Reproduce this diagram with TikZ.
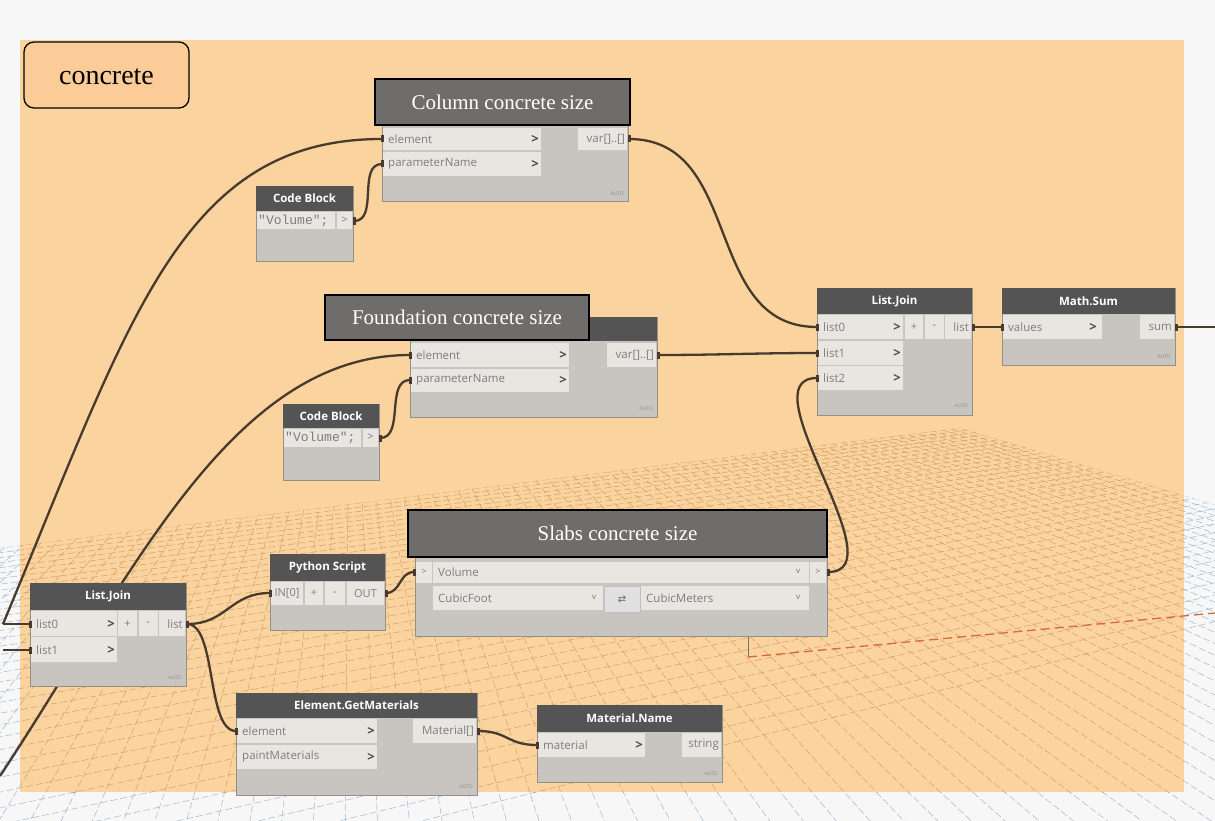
\documentclass[tikz,border=0pt]{standalone}
\usepackage{fontspec}
\setmainfont{Liberation Serif}
\newfontfamily\osans{Open Sans}
\newfontfamily\monof{Liberation Mono}
\newfontfamily\djv{DejaVu Sans}
\usetikzlibrary{fit}
\newcommand{\myfs}[1]{\fontsize{#1}{#1}\selectfont}
\definecolor{bgc}{RGB}{247,247,247}
\definecolor{grp}{RGB}{251,211,158}
\definecolor{lbl}{RGB}{252,204,152}
\definecolor{hdr}{RGB}{84,84,84}
\definecolor{bodyc}{RGB}{200,197,192}
\definecolor{rowc}{RGB}{233,230,226}
\definecolor{rowtxt}{RGB}{125,125,125}
\definecolor{nborder}{RGB}{150,143,133}
\definecolor{wirec}{RGB}{72,58,45}
\definecolor{tagc}{RGB}{111,109,107}
\definecolor{gridtan}{RGB}{205,160,104}
\definecolor{gridblue}{RGB}{160,183,206}
\definecolor{axisc}{RGB}{215,105,55}
\pgfdeclarelayer{back}
\pgfdeclarelayer{wires}
\pgfsetlayers{back,wires,main}
\newcommand{\gridlines}[1]{%
  \foreach \m in {28,...,64}{%
    \pgfmathsetmacro\gpy{244+10*(1665.6/\m)}%
    \draw[gridline,#1] (3000,173) -- (-2300,{2*\gpy-173});}%
  \foreach \n in {0,...,90}{%
    \pgfmathsetmacro\gff{1/(1-0.0042*\n)}%
    \pgfmathsetmacro\ggx{350+6*(3000-2040*\gff-350)}%
    \pgfmathsetmacro\ggy{244+6*(173+255*\gff-244)}%
    \draw[gridline,#1] (350,244) -- (\ggx,\ggy);}%
}
\tikzset{
  nbody/.style={inner sep=0pt, fit={#1}, draw=nborder, line width=0.7pt, fill=bodyc},
  nhdr/.style={inner sep=0pt, fit={#1}, fill=hdr},
  nrow/.style={inner sep=0pt, fit={#1}, fill=rowc},
  tag/.style={inner sep=0pt, fit={#1}, draw=black, line width=2pt, fill=tagc},
  tagtxt/.style={anchor=center, inner sep=0pt, text=white, font=\myfs{21}},
  htxt/.style={anchor=center, inner sep=0pt, text=white, font=\osans\bfseries\myfs{11.5}},
  rtxt/.style={anchor=west, inner sep=0pt, text=rowtxt, font=\osans\myfs{11.5}},
  otxt/.style={anchor=east, inner sep=0pt, text=rowtxt, font=\osans\myfs{11.5}},
  ctxt/.style={anchor=center, inner sep=0pt, text=rowtxt, font=\osans\myfs{11}},
  chev/.style={anchor=center, inner sep=0pt, text=black!70, font=\osans\bfseries\myfs{13}},
  vtxt/.style={anchor=center, inner sep=0pt, text=black!55, font=\osans\myfs{8}},
  autotxt/.style={anchor=east, inner sep=0pt, text=black!45, font=\osans\myfs{5}},
  mtxt/.style={anchor=west, inner sep=0pt, text=rowtxt, font=\monof\myfs{13}},
  port/.style={fill=wirec, minimum width=3pt, minimum height=7pt, inner sep=0pt},
  wire/.style={draw=wirec, line width=2.3pt},
  gridline/.style={line width=0.5pt, dash pattern=on 7pt off 3pt}
}
\begin{document}
\begin{tikzpicture}[x=1pt,y=-1pt]
\useasboundingbox (0,0) rectangle (1215,821);
\begin{pgfonlayer}{back}
\fill[bgc] (0,0) rectangle (1215,821);
\begin{scope}
  \clip (-20,550.5) -- (960,428) -- (1300,530.7) -- (1300,900) -- (-20,900) -- cycle;
  \gridlines{gridblue}
\end{scope}
\fill[grp] (20,40) rectangle (1184,792);
\begin{scope}
  \clip (20,40) rectangle (1184,792);
  \clip (-20,550.5) -- (960,428) -- (1300,530.7) -- (1300,900) -- (-20,900) -- cycle;
  \gridlines{gridtan}
\end{scope}
\draw[black!55, line width=1pt] (748,637) -- (748,657);
\draw[axisc, line width=1.3pt, dash pattern=on 9pt off 5pt] (748,657) -- (1215,613);
\end{pgfonlayer}

% group label
\node[inner sep=0pt, fit={(24,42)(189,108)}, draw=black, line width=1.3pt, rounded corners=10pt, fill=lbl] (concrete) {};
\node[anchor=center, inner sep=0pt, font=\myfs{28}] (concreteT) at ([yshift=-2pt]concrete.center) {concrete};

% Column node
\node[nbody={(382,125)(628,201)}] (col) {};
\node[nrow={(383,128)(541,150)}] (colR1) {};
\node[rtxt] (colT1) at (388,139) {element};
\node[chev] (colC1) at (535,139) {>};
\node[nrow={(383,152)(541,176)}] (colR2) {};
\node[rtxt] (colT2) at (388,164) {parameterName};
\node[chev] (colC2) at (535,164) {>};
\node[nrow={(578,128)(627,150)}] (colR3) {};
\node[otxt] (colT3) at (625,139) {var[]..[]};
\node[autotxt] (colA) at (624,194) {AUTO};
\node[tag={(375,79)(630,125)}] (colTag) {};
\node[tagtxt] (colTagT) at (colTag.center) {Column concrete size};
\node[port] (colIn1) at (382,139) {};
\node[port] (colIn2) at (382,164) {};
\node[port] (colOut) at (629,139) {};

% Code Block 1
\node[nbody={(256,186)(353,261)}] (cb1) {};
\node[nhdr={(256,186)(353,211)}] (cb1H) {};
\node[htxt] (cb1HT) at (cb1H.center) {Code Block};
\node[nrow={(257,212)(335,229)}] (cb1R) {};
\node[mtxt] (cb1T) at (258,221) {"Volume";};
\node[nrow={(337,212)(352,229)}] (cb1B) {};
\node[ctxt] (cb1G) at (344.5,220) {>};
\node[port] (cb1Out) at (354,221) {};

% Foundation node
\node[nbody={(410,317)(657,417)}] (fnd) {};
\node[nhdr={(410,317)(657,341)}] (fndH) {};
\node[nrow={(411,343)(569,367)}] (fndR1) {};
\node[rtxt] (fndT1) at (416,355) {element};
\node[chev] (fndC1) at (563,355) {>};
\node[nrow={(411,369)(569,392)}] (fndR2) {};
\node[rtxt] (fndT2) at (416,380) {parameterName};
\node[chev] (fndC2) at (563,380) {>};
\node[nrow={(607,343)(656,367)}] (fndR3) {};
\node[otxt] (fndT3) at (654,355) {var[]..[]};
\node[autotxt] (fndA) at (653,409) {AUTO};
\node[tag={(325,295)(589,340)}] (fndTag) {};
\node[tagtxt] (fndTagT) at (fndTag.center) {Foundation concrete size};
\node[port] (fndIn1) at (410,355) {};
\node[port] (fndIn2) at (410,380) {};
\node[port] (fndOut) at (658,355) {};

% Code Block 2
\node[nbody={(283,404)(379,480)}] (cb2) {};
\node[nhdr={(283,404)(379,428)}] (cb2H) {};
\node[htxt] (cb2HT) at (cb2H.center) {Code Block};
\node[nrow={(284,429)(361,447)}] (cb2R) {};
\node[mtxt] (cb2T) at (285,438) {"Volume";};
\node[nrow={(363,429)(378,447)}] (cb2B) {};
\node[ctxt] (cb2G) at (370.5,437) {>};
\node[port] (cb2Out) at (380,438) {};

% List.Join (right)
\node[nbody={(817,288)(972,415)}] (ljr) {};
\node[nhdr={(817,288)(972,314)}] (ljrH) {};
\node[htxt] (ljrHT) at (ljrH.center) {List.Join};
\node[nrow={(818,315)(903,339)}] (ljrR1) {};
\node[rtxt] (ljrT1) at (823,327) {list0};
\node[chev] (ljrC1) at (897,327) {>};
\node[nrow={(818,341)(903,365)}] (ljrR2) {};
\node[rtxt] (ljrT2) at (823,353) {list1};
\node[chev] (ljrC2) at (897,353) {>};
\node[nrow={(818,366)(903,390)}] (ljrR3) {};
\node[rtxt] (ljrT3) at (823,378) {list2};
\node[chev] (ljrC3) at (897,378) {>};
\node[nrow={(905,315)(923,339)}] (ljrP) {};
\node[ctxt] (ljrPT) at (914,327) {+};
\node[nrow={(925,315)(944,339)}] (ljrM) {};
\node[ctxt] (ljrMT) at (934.5,327) {-};
\node[nrow={(945,315)(971,339)}] (ljrO) {};
\node[otxt] (ljrOT) at (969,327) {list};
\node[autotxt] (ljrA) at (968,406) {AUTO};
\node[port] (ljrIn1) at (817,327) {};
\node[port] (ljrIn2) at (817,353) {};
\node[port] (ljrIn3) at (817,378) {};
\node[port] (ljrOut) at (973,327) {};

% Math.Sum
\node[nbody={(1002,288)(1175,365)}] (ms) {};
\node[nhdr={(1002,288)(1175,314)}] (msH) {};
\node[htxt] (msHT) at (msH.center) {Math.Sum};
\node[nrow={(1003,315)(1102,339)}] (msR1) {};
\node[rtxt] (msT1) at (1008,327) {values};
\node[chev] (msC1) at (1093,327) {>};
\node[nrow={(1140,315)(1174,339)}] (msO) {};
\node[otxt] (msOT) at (1172,327) {sum};
\node[autotxt] (msA) at (1171,357) {AUTO};
\node[port] (msIn) at (1002,327) {};
\node[port] (msOut) at (1176,327) {};
\coordinate (msEnd) at (1215,327);

% Slabs (unit conversion)
\node[nbody={(415,540)(827,636)}] (sl) {};
\node[nrow={(416,562)(432,583)}] (slP1) {};
\node[ctxt, font=\osans\myfs{9}] (slG1) at (424,572) {>};
\node[nrow={(433,562)(809,583)}] (slR1) {};
\node[rtxt] (slT1) at (438,572) {Volume};
\node[vtxt] (slV1) at (798,571) {v};
\node[nrow={(810,562)(826,583)}] (slP2) {};
\node[ctxt, font=\osans\myfs{9}] (slG2) at (818,572) {>};
\node[nrow={(433,586)(603,610)}] (slR2) {};
\node[rtxt] (slT2) at (438,598) {CubicFoot};
\node[vtxt] (slV2) at (594,597) {v};
\node[inner sep=0pt, fit={(604,586)(640,612)}, fill=black!12, draw=black!25, line width=0.5pt] (slSw) {};
\node[anchor=center, inner sep=0pt, font=\djv\myfs{10}, text=black!60] (slSwT) at (slSw.center) {⇄};
\node[nrow={(641,586)(809,610)}] (slR3) {};
\node[rtxt] (slT3) at (646,598) {CubicMeters};
\node[vtxt] (slV3) at (798,597) {v};
\node[tag={(408,510)(827,557)}] (slTag) {};
\node[tagtxt] (slTagT) at (slTag.center) {Slabs concrete size};
\node[port] (slIn) at (414,572) {};
\node[port] (slOut) at (828,572) {};

% Python Script
\node[nbody={(270,554)(385,630)}] (py) {};
\node[nhdr={(270,554)(385,581)}] (pyH) {};
\node[htxt] (pyHT) at (pyH.center) {Python Script};
\node[nrow={(271,582)(303,605)}] (pyR1) {};
\node[ctxt] (pyT1) at (287,593.5) {IN[0]};
\node[nrow={(305,582)(323,605)}] (pyP) {};
\node[ctxt] (pyPT) at (314,593.5) {+};
\node[nrow={(325,582)(345,605)}] (pyM) {};
\node[ctxt] (pyMT) at (335,593.5) {-};
\node[nrow={(347,582)(384,605)}] (pyO) {};
\node[ctxt] (pyOT) at (365.5,593.5) {OUT};
\node[port] (pyIn) at (270,593) {};
\node[port] (pyOut) at (386,593) {};

% List.Join (left)
\node[nbody={(30,583)(186,686)}] (ljl) {};
\node[nhdr={(30,583)(186,610)}] (ljlH) {};
\node[htxt] (ljlHT) at (ljlH.center) {List.Join};
\node[nrow={(31,611)(117,636)}] (ljlR1) {};
\node[rtxt] (ljlT1) at (36,624) {list0};
\node[chev] (ljlC1) at (111,624) {>};
\node[nrow={(31,637)(117,662)}] (ljlR2) {};
\node[rtxt] (ljlT2) at (36,650) {list1};
\node[chev] (ljlC2) at (111,650) {>};
\node[nrow={(118,611)(137,636)}] (ljlP) {};
\node[ctxt] (ljlPT) at (127.5,624) {+};
\node[nrow={(139,611)(158,636)}] (ljlM) {};
\node[ctxt] (ljlMT) at (148.5,624) {-};
\node[nrow={(159,611)(185,636)}] (ljlO) {};
\node[otxt] (ljlOT) at (183,624) {list};
\node[autotxt] (ljlA) at (182,678) {AUTO};
\node[port] (ljlIn1) at (30,624) {};
\node[port] (ljlIn2) at (30,650) {};
\node[port] (ljlOut) at (187,624) {};
\coordinate (offA) at (3,624);
\coordinate (offB) at (3,650);
\coordinate (offC) at (0,776);

% Element.GetMaterials
\node[nbody={(236,693)(477,795)}] (egm) {};
\node[nhdr={(236,693)(477,718)}] (egmH) {};
\node[htxt] (egmHT) at (egmH.center) {Element.GetMaterials};
\node[nrow={(237,719)(377,743)}] (egmR1) {};
\node[rtxt] (egmT1) at (242,731) {element};
\node[chev] (egmC1) at (371,731) {>};
\node[nrow={(237,745)(377,769)}] (egmR2) {};
\node[rtxt] (egmT2) at (242,757) {paintMaterials};
\node[chev] (egmC2) at (371,757) {>};
\node[nrow={(413,719)(476,743)}] (egmO) {};
\node[otxt] (egmOT) at (474,731) {Material[]};
\node[autotxt] (egmA) at (473,787) {AUTO};
\node[port] (egmIn) at (236,731) {};
\node[port] (egmOut) at (478,731) {};

% Material.Name
\node[nbody={(537,705)(722,782)}] (mn) {};
\node[nhdr={(537,705)(722,732)}] (mnH) {};
\node[htxt] (mnHT) at (mnH.center) {Material.Name};
\node[nrow={(538,733)(645,757)}] (mnR1) {};
\node[rtxt] (mnT1) at (543,745) {material};
\node[chev] (mnC1) at (639,745) {>};
\node[nrow={(682,733)(721,757)}] (mnO) {};
\node[otxt] (mnOT) at (719,745) {string};
\node[autotxt] (mnA) at (718,774) {AUTO};
\node[port] (mnIn) at (537,745) {};

% wires
\begin{pgfonlayer}{wires}
\draw[wire] (offA) .. controls (130,320) and (180,139) .. (colIn1.center);
\draw[wire] (offC) .. controls (130,580) and (230,355) .. (fndIn1.center);
\draw[wire] (offA) -- (ljlIn1.center);
\draw[wire] (offB) -- (ljlIn2.center);
\draw[wire] (cb1Out.center) .. controls +(25,0) and +(-25,0) .. (colIn2.center);
\draw[wire] (cb2Out.center) .. controls +(25,0) and +(-25,0) .. (fndIn2.center);
\draw[wire] (colOut.center) .. controls +(115,0) and +(-115,0) .. (ljrIn1.center);
\draw[wire] (fndOut.center) .. controls +(60,0) and +(-60,0) .. (ljrIn2.center);
\draw[wire] (slOut.center) .. controls +(72,0) and +(-72,0) .. (ljrIn3.center);
\draw[wire] (ljrOut.center) -- (msIn.center);
\draw[wire] (msOut.center) -- (msEnd);
\draw[wire] (ljlOut.center) .. controls +(40,0) and +(-40,0) .. (pyIn.center);
\draw[wire] (ljlOut.center) .. controls +(30,0) and +(-30,0) .. (egmIn.center);
\draw[wire] (pyOut.center) .. controls +(15,0) and +(-15,0) .. (slIn.center);
\draw[wire] (egmOut.center) .. controls +(30,0) and +(-30,0) .. (mnIn.center);
\end{pgfonlayer}
\end{tikzpicture}
\end{document}
